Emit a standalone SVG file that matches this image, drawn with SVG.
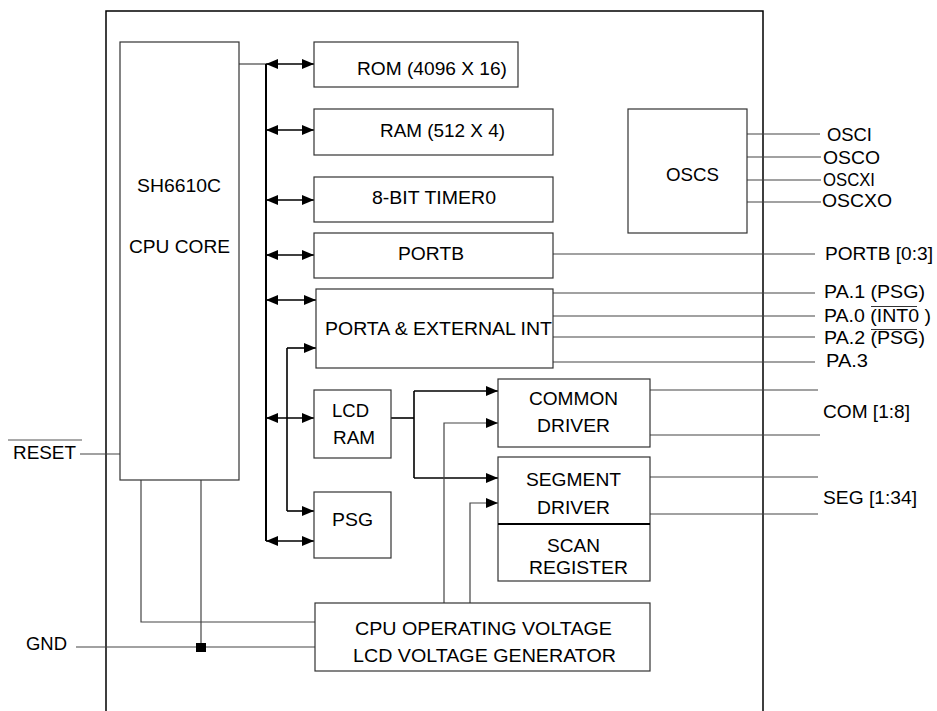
<svg xmlns="http://www.w3.org/2000/svg" width="937" height="711" viewBox="0 0 937 711">
<defs>
<style>
.box{fill:#fff;stroke:#333;stroke-width:1.2}
.ln{fill:none;stroke:#444;stroke-width:1.2}
.bus{fill:none;stroke:#000;stroke-width:2}
.ar{fill:none;stroke:#000;stroke-width:1.6}
text{font-family:"Liberation Sans",Arial,sans-serif;font-size:17.5px;fill:#000}
</style>
<marker id="ah" markerUnits="userSpaceOnUse" markerWidth="12" markerHeight="10" refX="12" refY="5" orient="auto-start-reverse" viewBox="0 0 12 10">
<path d="M0,0 L12,5 L0,10 z" fill="#000"/>
</marker>
</defs>
<rect width="937" height="711" fill="#fff"/>
<path d="M106,711 V11 H763 V711" fill="none" stroke="#000" stroke-width="1.5"/>

<g id="connectors">
<path class="ln" d="M239,64 H266"/>
<path class="bus" d="M266,64 V541"/>
<path class="ar" d="M266,64 H314" marker-start="url(#ah)" marker-end="url(#ah)"/>
<path class="ar" d="M266,130 H314" marker-start="url(#ah)" marker-end="url(#ah)"/>
<path class="ar" d="M266,200 H314" marker-start="url(#ah)" marker-end="url(#ah)"/>
<path class="ar" d="M266,255 H314" marker-start="url(#ah)" marker-end="url(#ah)"/>
<path class="ar" d="M266,300 H316" marker-start="url(#ah)" marker-end="url(#ah)"/>
<path class="ar" d="M266,418 H314" marker-start="url(#ah)" marker-end="url(#ah)"/>
<path class="ar" d="M266,541 H314" marker-start="url(#ah)" marker-end="url(#ah)"/>
<path class="ar" d="M287,348 V511"/>
<path class="ar" d="M287,348 H316" marker-end="url(#ah)"/>
<path class="ar" d="M287,511 H314" marker-end="url(#ah)"/>
<path class="ar" d="M391,418 H414"/>
<path class="ar" d="M414,391 V478"/>
<path class="ar" d="M414,391 H498" marker-end="url(#ah)"/>
<path class="ar" d="M414,478 H498" marker-end="url(#ah)"/>
<path class="ln" d="M444,603 V423 H498" marker-end="url(#ah)"/>
<path class="ln" d="M470,603 V503 H498" marker-end="url(#ah)"/>
<path class="ln" d="M80,454 H120"/>
<path class="ln" d="M141,480 V622 H315"/>
<path class="ln" d="M201,480 V647"/>
<path class="ln" d="M76,647 H315"/>
<rect x="196" y="643" width="10" height="9" fill="#000"/>
<path class="ln" d="M747,134 H820 M747,157 H821 M747,180 H821 M747,202 H821"/>
<path class="ln" d="M553,254 H815"/>
<path class="ln" d="M553,293 H815 M553,316 H815 M553,337 H815 M553,362 H815"/>
<path class="ln" d="M650,390 H818 M650,435 H820 M650,477 H818 M650,514 H818"/>
</g>

<g id="cpu"><rect class="box" x="120" y="42" width="119" height="438"/>
<text x="137" y="192" textLength="84" lengthAdjust="spacingAndGlyphs">SH6610C</text>
<text x="129" y="253" textLength="101" lengthAdjust="spacingAndGlyphs">CPU CORE</text></g>
<g id="rom"><rect class="box" x="314" y="42" width="204" height="45"/>
<text x="357" y="75" textLength="150" lengthAdjust="spacingAndGlyphs">ROM (4096 X 16)</text></g>
<g id="ram"><rect class="box" x="314" y="109" width="239" height="46"/>
<text x="380" y="137" textLength="125" lengthAdjust="spacingAndGlyphs">RAM (512 X 4)</text></g>
<g id="timer"><rect class="box" x="314" y="177" width="239" height="45"/>
<text x="372" y="204" textLength="124" lengthAdjust="spacingAndGlyphs">8-BIT TIMER0</text></g>
<g id="portb"><rect class="box" x="314" y="233" width="239" height="45"/>
<text x="398" y="260" textLength="66" lengthAdjust="spacingAndGlyphs">PORTB</text></g>
<g id="porta"><rect class="box" x="316" y="289" width="237" height="79"/>
<text x="325" y="335" textLength="227" lengthAdjust="spacingAndGlyphs">PORTA &amp; EXTERNAL INT</text></g>
<g id="lcdram"><rect class="box" x="314" y="390" width="77" height="68"/>
<text x="332" y="417" textLength="37" lengthAdjust="spacingAndGlyphs">LCD</text>
<text x="333" y="444" textLength="42" lengthAdjust="spacingAndGlyphs">RAM</text></g>
<g id="psg"><rect class="box" x="314" y="492" width="77" height="66"/>
<text x="332" y="526" textLength="41" lengthAdjust="spacingAndGlyphs">PSG</text></g>
<g id="common"><rect class="box" x="498" y="379" width="152" height="68"/>
<text x="529" y="405" textLength="89" lengthAdjust="spacingAndGlyphs">COMMON</text>
<text x="537" y="432" textLength="73" lengthAdjust="spacingAndGlyphs">DRIVER</text></g>
<g id="segment"><rect class="box" x="498" y="457" width="152" height="124"/>
<path d="M498,524 H650" stroke="#000" stroke-width="2"/>
<text x="526" y="486" textLength="95" lengthAdjust="spacingAndGlyphs">SEGMENT</text>
<text x="537" y="514" textLength="73" lengthAdjust="spacingAndGlyphs">DRIVER</text>
<text x="547" y="552" textLength="53" lengthAdjust="spacingAndGlyphs">SCAN</text>
<text x="529" y="574" textLength="99" lengthAdjust="spacingAndGlyphs">REGISTER</text></g>
<g id="voltage"><rect class="box" x="315" y="603" width="335" height="68"/>
<text x="355" y="635" textLength="257" lengthAdjust="spacingAndGlyphs">CPU OPERATING VOLTAGE</text>
<text x="353" y="662" textLength="263" lengthAdjust="spacingAndGlyphs">LCD VOLTAGE GENERATOR</text></g>
<g id="oscs"><rect class="box" x="628" y="109" width="119" height="124"/>
<text x="666" y="181" textLength="53" lengthAdjust="spacingAndGlyphs">OSCS</text></g>

<g id="pins">
<text x="13" y="459" textLength="63" lengthAdjust="spacingAndGlyphs">RESET</text>
<path d="M8,440 H82" stroke="#555" stroke-width="1.2"/>
<text x="26" y="650" textLength="41" lengthAdjust="spacingAndGlyphs">GND</text>
<text x="827" y="141" textLength="45" lengthAdjust="spacingAndGlyphs">OSCI</text>
<text x="823" y="164" textLength="57" lengthAdjust="spacingAndGlyphs">OSCO</text>
<text x="823" y="186" textLength="52" lengthAdjust="spacingAndGlyphs">OSCXI</text>
<text x="822" y="207" textLength="70" lengthAdjust="spacingAndGlyphs">OSCXO</text>
<text x="825" y="260" textLength="108" lengthAdjust="spacingAndGlyphs">PORTB [0:3]</text>
<text x="824" y="298" textLength="101" lengthAdjust="spacingAndGlyphs">PA.1 (PSG)</text>
<text x="824" y="322" textLength="107" lengthAdjust="spacingAndGlyphs">PA.0 (INT0 )</text>
<text x="824" y="344" textLength="101" lengthAdjust="spacingAndGlyphs">PA.2 (PSG)</text>
<text x="826" y="367" textLength="42" lengthAdjust="spacingAndGlyphs">PA.3</text>
<path d="M871,306.5 H917 M871,329.5 H917" stroke="#333" stroke-width="1.2"/>
<text x="823" y="418" textLength="87" lengthAdjust="spacingAndGlyphs">COM [1:8]</text>
<text x="823" y="504" textLength="94" lengthAdjust="spacingAndGlyphs">SEG [1:34]</text>
</g>
</svg>
